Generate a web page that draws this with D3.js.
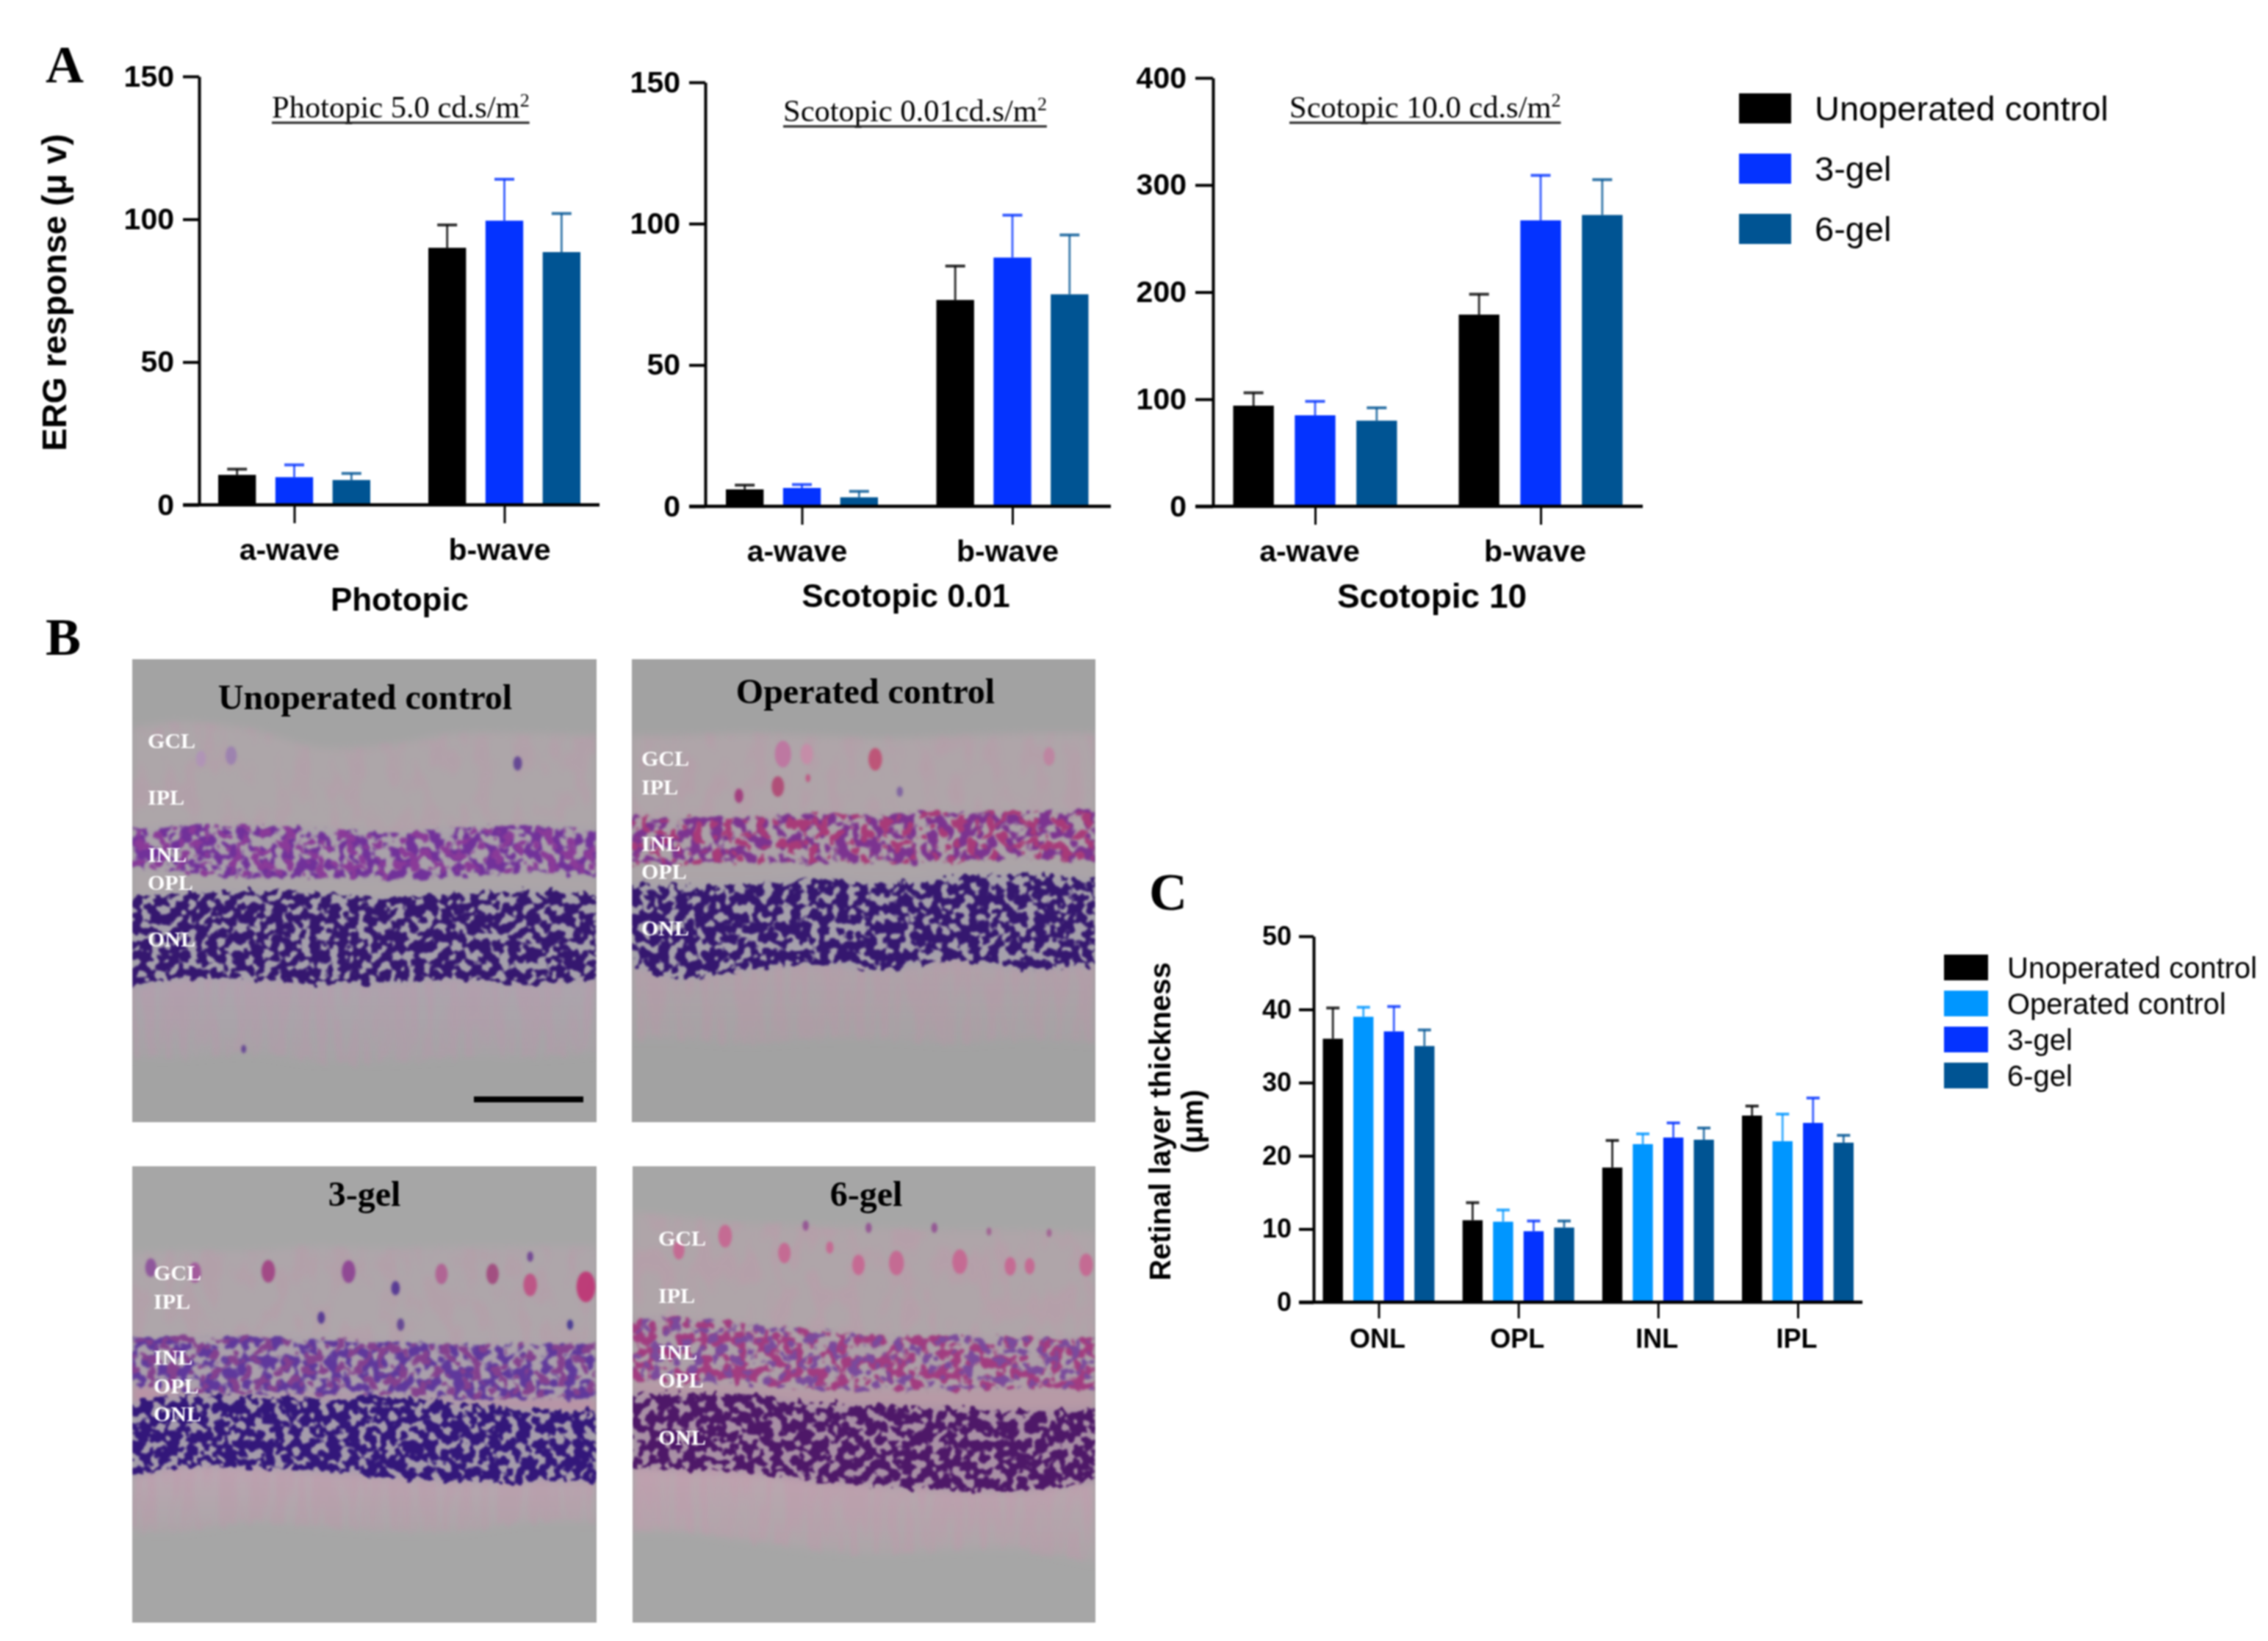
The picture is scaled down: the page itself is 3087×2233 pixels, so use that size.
<!DOCTYPE html>
<html>
<head>
<meta charset="utf-8">
<script src="https://cdn.jsdelivr.net/npm/d3@7"></script>
<style>
  html, body { margin: 0; padding: 0; background: #fff; }
  svg { display: block; filter: blur(.8px); }
  text { font-family: "Liberation Sans", Arial, sans-serif; fill: #000; }
  .serif { font-family: "Liberation Serif", "Times New Roman", serif; }
  .bold { font-weight: bold; }
</style>
</head>
<body>
<div id="chart-container"></div>
<script>
// ---- data ----
const waves = ["a-wave", "b-wave"];
const groupsA = ["Unoperated control", "3-gel", "6-gel"];

const photopicMean = [[10.5, 9.7, 8.7], [90, 99.5, 88.5]];
const photopicTop = [[12.5, 14, 11], [98, 114, 102]];
const scotopic001Mean = [[6, 6.5, 3.2], [73, 88, 75]];
const scotopic001Top = [[7.5, 7.7, 5.3], [85, 103, 96]];
const scotopic10Mean = [[94, 85, 80], [179, 267, 272]];
const scotopic10Top = [[106, 98, 92], [198, 309, 305]];

const layers = ["ONL", "OPL", "INL", "IPL"];
const groupsC = ["Unoperated control", "Operated control", "3-gel", "6-gel"];
const thicknessMean = [[36, 39, 37, 35], [11.2, 11, 9.7, 10.2], [18.4, 21.6, 22.5, 22.2], [25.5, 22, 24.5, 21.8]];
const thicknessTop = [[40.2, 40.3, 40.4, 37.2], [13.6, 12.6, 11.1, 11.1], [22.1, 23, 24.5, 23.8], [26.8, 25.7, 27.9, 22.8]];

const ticks150 = [0, 50, 100, 150];
const ticks400 = [0, 100, 200, 300, 400];
const ticks50 = [0, 10, 20, 30, 40, 50];

const colors = {
  "Unoperated control": "#000000",
  "Operated control": "#0096ff",
  "3-gel": "#0433ff",
  "6-gel": "#005493"
};

// micrographs: retina band edges as fractions of each image
const profileX = [0, .1, .25, .4, .55, .7, .85, 1];
const unoperatedBands = {
  top: [.15, .135, .15, .19, .185, .16, .16, .165],
  inlTop: [.37, .36, .36, .365, .375, .365, .36, .365],
  inlBot: [.45, .46, .47, .47, .475, .47, .46, .47],
  onlTop: [.515, .505, .5, .505, .515, .505, .5, .51],
  onlBot: [.71, .69, .69, .7, .7, .69, .7, .69],
  recBot: [.86, .86, .85, .87, .87, .86, .86, .85]
};
const operatedBands = {
  top: [.165, .165, .16, .165, .17, .165, .16, .16],
  inlTop: [.34, .345, .34, .335, .335, .33, .33, .33],
  inlBot: [.44, .44, .44, .44, .44, .44, .43, .44],
  onlTop: [.485, .49, .485, .475, .485, .47, .465, .475],
  onlBot: [.66, .69, .67, .66, .67, .65, .67, .66],
  recBot: [.82, .82, .83, .82, .82, .83, .82, .83]
};
const gel3Bands = {
  top: [.19, .185, .185, .175, .18, .175, .175, .175],
  inlTop: [.38, .375, .375, .38, .385, .39, .39, .39],
  inlBot: [.48, .49, .5, .5, .5, .51, .51, .51],
  onlTop: [.52, .5, .505, .51, .505, .52, .53, .54],
  onlBot: [.68, .66, .66, .67, .68, .69, .69, .69],
  recBot: [.8, .8, .78, .79, .8, .8, .78, .78]
};
const gel6Bands = {
  top: [.1, .11, .125, .13, .135, .14, .14, .145],
  inlTop: [.33, .33, .345, .36, .37, .37, .375, .375],
  inlBot: [.47, .475, .48, .49, .49, .49, .485, .49],
  onlTop: [.495, .5, .5, .52, .525, .53, .535, .53],
  onlBot: [.66, .665, .67, .69, .7, .71, .71, .69],
  recBot: [.8, .8, .82, .84, .85, .84, .84, .87]
};

// [x fraction, y fraction, radius, colour]
const unoperatedCells = [[.213, .208, 9, "#9a7cb0"], [.148, .215, 8, "#b092b8"], [.83, .225, 7, "#5a3a90"], [.24, .842, 4, "#5a3a90"]];
const operatedCells = [[.326, .205, 13, "#c070a0"], [.377, .205, 10, "#c88aa8"], [.525, .216, 11, "#c04870"], [.315, .275, 10, "#b04070"],
  [.231, .295, 7, "#a03078"], [.578, .286, 5, "#7a5aa0"], [.38, .257, 4, "#c05080"], [.9, .21, 9, "#c080a0"]];
const gel3Cells = [[.04, .222, 9, "#8a4a9a"], [.135, .233, 10, "#a0509a"], [.293, .23, 11, "#a03a80"], [.466, .231, 11, "#8a3a90"],
  [.567, .267, 7, "#4a2a90"], [.666, .236, 10, "#b05a90"], [.776, .236, 10, "#a0407a"], [.857, .198, 5, "#6a3a90"], [.857, .26, 11, "#c04880"],
  [.977, .264, 15, "#c02a70"], [.407, .332, 6, "#4a2a90"], [.578, .347, 6, "#5a3a90"], [.943, .347, 5, "#3a2a90"]];
const gel6Cells = [[.2, .153, 11, "#c8608f"], [.1, .184, 9, "#c8608f"], [.328, .19, 10, "#c8608f"], [.374, .13, 5, "#904a90"], [.488, .216, 10, "#c8608f"],
  [.57, .212, 12, "#c8608f"], [.51, .135, 5, "#904a90"], [.652, .135, 5, "#904a90"], [.707, .209, 12, "#c8608f"], [.77, .143, 4, "#a05a90"],
  [.816, .219, 9, "#c8608f"], [.9, .146, 4, "#a05a90"], [.858, .219, 8, "#c8608f"], [.98, .216, 11, "#c8608f"], [.426, .178, 6, "#c8608f"]];

const retinaLabels = ["GCL", "IPL", "INL", "OPL", "ONL"];

// ---- page ----
const svg = d3.select("#chart-container")
  .append("svg")
  .attr("width", 3087)
  .attr("height", 2233);

const defs = svg.append("defs");

// one bar chart: y axis on the left, grouped bars with upper error bars
function barChart(opt) {
  const g = svg.append("g");

  const y = d3.scaleLinear().domain(opt.yDomain).range([opt.y0, opt.yTop]);
  const x0 = d3.scalePoint().domain(opt.cats).range(opt.catRange);
  const x1 = d3.scaleBand().domain(opt.groups).range([-opt.groupW / 2, opt.groupW / 2]).paddingInner(.34);

  opt.cats.forEach((cat, i) => {
    opt.groups.forEach((name, j) => {
      const cx = x0(cat) + x1(name) + x1.bandwidth() / 2;
      // error bar under the bar so the stem starts at the bar top
      g.append("line")
        .attr("x1", cx).attr("x2", cx)
        .attr("y1", y(opt.mean[i][j])).attr("y2", y(opt.top[i][j]))
        .attr("stroke", colors[name])
        .attr("stroke-width", 3)
        .attr("opacity", name === "Unoperated control" ? .8 : .75);
      g.append("line")
        .attr("x1", cx - opt.capW / 2).attr("x2", cx + opt.capW / 2)
        .attr("y1", y(opt.top[i][j])).attr("y2", y(opt.top[i][j]))
        .attr("stroke", colors[name])
        .attr("stroke-width", 4)
        .attr("opacity", .8);
      g.append("rect")
        .attr("x", x0(cat) + x1(name))
        .attr("y", y(opt.mean[i][j]))
        .attr("width", x1.bandwidth())
        .attr("height", y(0) - y(opt.mean[i][j]))
        .attr("fill", colors[name]);
    });
  });

  const yAxis = g.append("g")
    .attr("transform", `translate(${opt.axisX},0)`)
    .call(d3.axisLeft(y).tickValues(opt.yTicks).tickSize(opt.tickLen).tickPadding(opt.yPad).tickSizeOuter(0));
  yAxis.selectAll("path, line").attr("stroke", "#000").attr("stroke-width", 4);
  yAxis.selectAll("text").attr("class", "bold").attr("font-size", opt.yFont);

  const xAxis = g.append("g")
    .attr("transform", `translate(0,${opt.y0})`)
    .call(d3.axisBottom(x0).tickSize(opt.xTickLen).tickPadding(opt.xPad));
  xAxis.select(".domain").remove();
  xAxis.selectAll("line").attr("stroke", "#000").attr("stroke-width", 3);
  xAxis.selectAll("text")
    .attr("class", "bold")
    .attr("font-size", opt.xFont)
    .attr("dx", opt.xShift);

  g.append("line")
    .attr("x1", opt.axisX - opt.tickLen)
    .attr("x2", opt.baseEnd)
    .attr("y1", opt.y0).attr("y2", opt.y0)
    .attr("stroke", "#000").attr("stroke-width", 4.5);

  if (opt.xTitle) {
    g.append("text")
      .attr("class", "bold")
      .attr("x", opt.xTitleX).attr("y", opt.xTitleY)
      .attr("text-anchor", "middle")
      .attr("font-size", opt.xTitleFont)
      .text(opt.xTitle);
  }

  if (opt.topTitle) {
    const t = g.append("text")
      .attr("class", "serif")
      .attr("x", opt.topX).attr("y", opt.topY)
      .attr("font-size", 42.5)
      .attr("fill", "#111");
    t.append("tspan").text(opt.topTitle);
    t.append("tspan").attr("dy", -15).attr("font-size", 26).text("2");
    g.append("line")
      .attr("x1", opt.topX)
      .attr("x2", opt.topX + t.node().getComputedTextLength())
      .attr("y1", opt.topY + 7).attr("y2", opt.topY + 7)
      .attr("stroke", "#222").attr("stroke-width", 3);
  }
}

barChart({
  cats: waves, groups: groupsA, mean: photopicMean, top: photopicTop,
  yDomain: [0, 150], yTicks: ticks150, y0: 687, yTop: 104, axisX: 271, catRange: [400.5, 686.5], groupW: 207,
  baseEnd: 816, tickLen: 22, xTickLen: 25, yPad: 12, xPad: 21, yFont: 41, xFont: 41, xShift: -7, capW: 27,
  xTitle: "Photopic", xTitleX: 544, xTitleY: 831, xTitleFont: 44,
  topTitle: "Photopic 5.0 cd.s/m", topX: 370, topY: 160
});

barChart({
  cats: waves, groups: groupsA, mean: scotopic001Mean, top: scotopic001Top,
  yDomain: [0, 150], yTicks: ticks150, y0: 689, yTop: 112, axisX: 960, catRange: [1091.5, 1378], groupW: 207,
  baseEnd: 1512, tickLen: 22, xTickLen: 25, yPad: 12, xPad: 21, yFont: 41, xFont: 41, xShift: -7, capW: 27,
  xTitle: "Scotopic 0.01", xTitleX: 1233, xTitleY: 826, xTitleFont: 44,
  topTitle: "Scotopic 0.01cd.s/m", topX: 1066, topY: 165
});

barChart({
  cats: waves, groups: groupsA, mean: scotopic10Mean, top: scotopic10Top,
  yDomain: [0, 400], yTicks: ticks400, y0: 689, yTop: 106, axisX: 1651, catRange: [1790, 2097], groupW: 223,
  baseEnd: 2236, tickLen: 24, xTickLen: 25, yPad: 12, xPad: 21, yFont: 41, xFont: 41, xShift: -8, capW: 27,
  xTitle: "Scotopic 10", xTitleX: 1949, xTitleY: 827, xTitleFont: 46,
  topTitle: "Scotopic 10.0 cd.s/m", topX: 1755, topY: 160
});

barChart({
  cats: layers, groups: groupsC, mean: thicknessMean, top: thicknessTop,
  yDomain: [0, 50], yTicks: ticks50, y0: 1772, yTop: 1274, axisX: 1788, catRange: [1876.5, 2447], groupW: 152,
  baseEnd: 2535, tickLen: 20, xTickLen: 22, yPad: 10, xPad: 14, yFont: 36, xFont: 36, xShift: -2, capW: 18
});

// y titles
svg.append("text")
  .attr("class", "bold")
  .attr("transform", "translate(90,398) rotate(-90)")
  .attr("text-anchor", "middle")
  .attr("font-size", 46.5)
  .text("ERG response (\u03bc v)");

const thicknessTitle = svg.append("text")
  .attr("class", "bold")
  .attr("transform", "translate(1593,1526) rotate(-90)")
  .attr("text-anchor", "middle")
  .attr("font-size", 40);
thicknessTitle.append("tspan").attr("x", 0).attr("y", 0).text("Retinal layer thickness");
thicknessTitle.append("tspan").attr("x", 0).attr("y", 44).text("(\u03bcm)");

// legends
function legend(names, x, y0, step, swatchW, swatchH, textX, fontSize) {
  const row = svg.append("g").selectAll("g")
    .data(names)
    .join("g")
    .attr("transform", (d, i) => `translate(${x},${y0 + i * step})`);
  row.append("rect")
    .attr("width", swatchW).attr("height", swatchH)
    .attr("fill", d => colors[d]);
  row.append("text")
    .attr("x", textX)
    .attr("y", swatchH / 2)
    .attr("dy", ".36em")
    .attr("font-size", fontSize)
    .text(d => d);
}
legend(groupsA, 2367, 127, 82, 71, 41, 103, 47);
legend(groupsC, 2646, 1299, 49, 60, 35, 86, 40);

// panel letters
[["A", 62, 112], ["B", 62, 891], ["C", 1564, 1238]].forEach(([s, x, y]) => {
  svg.append("text")
    .attr("class", "serif bold")
    .attr("x", x).attr("y", y)
    .attr("font-size", 72)
    .text(s);
});

// ---- micrographs ----
// thresholded turbulence gives the clumped nuclei texture, displacement roughens the band edges
function speckleFilter(id, box, freq, seed, slope, cut, rough, blur) {
  const f = defs.append("filter")
    .attr("id", id)
    .attr("filterUnits", "userSpaceOnUse")
    .attr("x", box.x).attr("y", box.y)
    .attr("width", box.w).attr("height", box.h)
    .attr("color-interpolation-filters", "sRGB");
  f.append("feTurbulence")
    .attr("type", "fractalNoise")
    .attr("baseFrequency", freq)
    .attr("numOctaves", 2)
    .attr("seed", seed)
    .attr("result", "noise");
  f.append("feDisplacementMap")
    .attr("in", "SourceGraphic")
    .attr("in2", "noise")
    .attr("scale", rough)
    .attr("xChannelSelector", "R")
    .attr("yChannelSelector", "G")
    .attr("result", "rough");
  f.append("feColorMatrix")
    .attr("in", "noise")
    .attr("type", "matrix")
    .attr("values", `0 0 0 0 0  0 0 0 0 0  0 0 0 0 0  ${slope} 0 0 0 ${cut}`)
    .attr("result", "mask");
  f.append("feComposite")
    .attr("in", "rough")
    .attr("in2", "mask")
    .attr("operator", "in");
  f.append("feGaussianBlur").attr("stdDeviation", blur);
}

function micrograph(m, idx) {
  const box = { x: m.x, y: m.y, w: m.w, h: m.h };
  const x = d3.scaleLinear().domain([0, 1]).range([m.x, m.x + m.w]);
  const y = d3.scaleLinear().domain([0, 1]).range([m.y, m.y + m.h]);

  const clipId = `clip${idx}`;
  defs.append("clipPath").attr("id", clipId)
    .append("rect").attr("x", m.x).attr("y", m.y).attr("width", m.w).attr("height", m.h);

  const softId = `soft${idx}`;
  defs.append("filter").attr("id", softId)
    .attr("filterUnits", "userSpaceOnUse")
    .attr("x", m.x).attr("y", m.y).attr("width", m.w).attr("height", m.h)
    .append("feGaussianBlur").attr("stdDeviation", 6);
  const cellBlurId = `cellBlur${idx}`;
  defs.append("filter").attr("id", cellBlurId)
    .attr("filterUnits", "userSpaceOnUse")
    .attr("x", m.x).attr("y", m.y).attr("width", m.w).attr("height", m.h)
    .append("feGaussianBlur").attr("stdDeviation", 1.8);
  const fadeId = `fade${idx}`;
  const fade = defs.append("linearGradient").attr("id", fadeId).attr("x1", 0).attr("x2", 0).attr("y1", 0).attr("y2", 1);
  fade.append("stop").attr("offset", 0).attr("stop-color", m.rec).attr("stop-opacity", .95);
  fade.append("stop").attr("offset", 1).attr("stop-color", m.rec).attr("stop-opacity", .2);

  speckleFilter(`inl${idx}`, box, "0.065", idx * 7 + 3, 13, -6.0, 16, 1.4);
  speckleFilter(`inlb${idx}`, box, "0.07", idx * 3 + 41, 13, -6.9, 16, 1.4);
  speckleFilter(`onl${idx}`, box, "0.078", idx * 5 + 11, 13, -5.35, 22, 1.2);
  speckleFilter(`rec${idx}`, box, "0.09 0.012", idx + 21, 5, -1.9, 26, 2.5);
  speckleFilter(`lace${idx}`, box, "0.04 0.02", idx + 31, 6, -2.8, 14, 2.5);

  const g = svg.append("g").attr("clip-path", `url(#${clipId})`);
  g.append("rect")
    .attr("x", m.x).attr("y", m.y).attr("width", m.w).attr("height", m.h)
    .attr("fill", m.bg);

  const band = (a, b) => d3.area()
    .x((d, i) => x(profileX[i]))
    .y0((d, i) => y(m.bands[b][i]))
    .y1((d, i) => y(m.bands[a][i]))
    .curve(d3.curveCatmullRom)(profileX);

  const soft = g.append("g").attr("filter", `url(#${softId})`);
  soft.append("path").attr("d", band("onlBot", "recBot")).attr("fill", `url(#${fadeId})`);
  soft.append("path").attr("d", band("top", "inlTop")).attr("fill", m.inner);
  soft.append("path").attr("d", band("inlTop", "inlBot")).attr("fill", m.inlBase);
  soft.append("path").attr("d", band("inlBot", "onlTop")).attr("fill", m.opl);
  soft.append("path").attr("d", band("onlTop", "onlBot")).attr("fill", m.onlBase);

  g.append("path").attr("d", band("top", "inlTop")).attr("fill", m.lace).attr("opacity", .2).attr("filter", `url(#lace${idx})`);
  g.append("path").attr("d", band("onlBot", "recBot")).attr("fill", m.lace).attr("opacity", .22).attr("filter", `url(#rec${idx})`);
  g.append("path").attr("d", band("inlTop", "inlBot")).attr("fill", m.inl).attr("filter", `url(#inl${idx})`);
  g.append("path").attr("d", band("inlTop", "inlBot")).attr("fill", m.inl2).attr("filter", `url(#inlb${idx})`);
  g.append("path").attr("d", band("onlTop", "onlBot")).attr("fill", m.onl).attr("filter", `url(#onl${idx})`);

  g.append("g").attr("filter", `url(#${cellBlurId})`).selectAll("ellipse")
    .data(m.cells)
    .join("ellipse")
    .attr("cx", d => x(d[0]))
    .attr("cy", d => y(d[1]))
    .attr("rx", d => d[2] * .85)
    .attr("ry", d => d[2] * 1.4)
    .attr("fill", d => d[3])
    .attr("opacity", .85);

  svg.append("text")
    .attr("class", "serif bold")
    .attr("x", m.titleX).attr("y", m.titleY)
    .attr("text-anchor", "middle")
    .attr("font-size", 48)
    .text(m.title);

  svg.append("g").selectAll("text")
    .data(retinaLabels)
    .join("text")
    .attr("class", "serif bold")
    .attr("x", m.labelX)
    .attr("y", (d, i) => m.labelY[i])
    .attr("font-size", 30)
    .style("fill", "#fff")
    .text(d => d);
}

const micrographs = [
  { x: 180, y: 897, w: 632, h: 630, bg: "#a3a3a3", title: "Unoperated control", titleX: 497, titleY: 965,
    bands: unoperatedBands, cells: unoperatedCells, inner: "#ada6a9", lace: "#c48cac", inlBase: "#a9a2aa", opl: "#aca5a8", onlBase: "#a5a0ac",
    inl: "#71319a", inl2: "#8a3a98", onl: "#35176f", rec: "#aea4ae", labelX: 201, labelY: [1018, 1095, 1173, 1211, 1288] },
  { x: 860, y: 897, w: 631, h: 630, bg: "#a2a2a2", title: "Operated control", titleX: 1178, titleY: 957,
    bands: operatedBands, cells: operatedCells, inner: "#afa5a9", lace: "#c48ca8", inlBase: "#aca2a8", opl: "#aca4a7", onlBase: "#a5a0ac",
    inl: "#7c3390", inl2: "#a83a78", onl: "#35176f", rec: "#b0a3aa", labelX: 873, labelY: [1042, 1081, 1158, 1196, 1273] },
  { x: 180, y: 1587, w: 632, h: 621, bg: "#a6a6a6", title: "3-gel", titleX: 496, titleY: 1641,
    bands: gel3Bands, cells: gel3Cells, inner: "#aea6aa", lace: "#c48ca8", inlBase: "#aaa0ac", opl: "#bb93a6", onlBase: "#a59cac",
    inl: "#5f389c", inl2: "#84408e", onl: "#33177a", rec: "#bda6b2", labelX: 209, labelY: [1742, 1781, 1857, 1896, 1934] },
  { x: 861, y: 1587, w: 630, h: 621, bg: "#a6a6a6", title: "6-gel", titleX: 1179, titleY: 1641,
    bands: gel6Bands, cells: gel6Cells, inner: "#afa5a9", lace: "#cc8cac", inlBase: "#ada0a8", opl: "#b79aa6", onlBase: "#a990a6",
    inl: "#a23c80", inl2: "#7a4a9c", onl: "#4e1868", rec: "#bda6b0", labelX: 896, labelY: [1695, 1773, 1850, 1888, 1966] }
];

micrographs.forEach(micrograph);

// scale bar in the first image
svg.append("rect")
  .attr("x", 645).attr("y", 1492)
  .attr("width", 149).attr("height", 8)
  .attr("fill", "#000");
</script>
</body>
</html>
